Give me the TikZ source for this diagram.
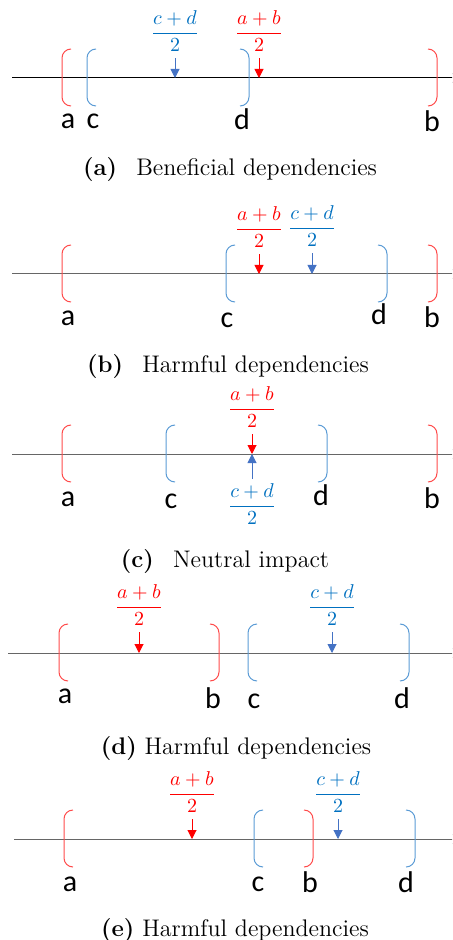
\documentclass[tikz,border=0pt]{standalone}
\usepackage{fontspec}
\newfontfamily\lblfont{Carlito}
\usetikzlibrary{arrows.meta}
\definecolor{fracblue}{HTML}{0070C0}
\definecolor{arrblue}{HTML}{4472C4}
\definecolor{brblue}{HTML}{5B9BD5}
\definecolor{brred}{HTML}{FF4B4B}
\tikzset{
  axisline/.style={draw=black!60,line width=0.5pt,-{To[length=3pt,width=5pt]}},
  redbr/.style={draw=brred,line width=0.5pt,rounded corners=4.5pt},
  bluebr/.style={draw=brblue,line width=0.5pt,rounded corners=4.5pt},
  endlbl/.style={font=\lblfont\fontsize{15}{15}\selectfont,inner sep=0pt,anchor=base},
  redfrac/.style={text=red,font=\fontsize{10}{12}\selectfont,inner sep=1pt,anchor=base},
  bluefrac/.style={text=fracblue,font=\fontsize{10}{12}\selectfont,inner sep=1pt,anchor=base},
  redarr/.style={draw=red,line width=0.5pt,-{Triangle[length=4.5pt,width=4.5pt]},shorten <=2pt},
  bluearr/.style={draw=arrblue,line width=0.5pt,-{Triangle[length=4.5pt,width=4.5pt]},shorten <=2pt},
  subcap/.style={font=\fontsize{12}{14}\selectfont,inner sep=0pt,anchor=base}
}
\newcommand{\half}[1]{$\displaystyle\frac{#1}{2}$}

\begin{document}
\begin{tikzpicture}[x=0.5pt,y=-0.5pt]
\clip (0,0) rectangle (452,940);

% (a) beneficial
\draw[axisline,draw=black] (12,78) -- (458,78);
\draw[redbr] (71,49) -- (62,49) -- (62,106) -- (71,106);
\draw[bluebr] (96,49) -- (87,49) -- (87,106) -- (96,106);
\draw[bluebr] (240,49) -- (249,49) -- (249,106) -- (240,106);
\draw[redbr] (428,49) -- (437,49) -- (437,106) -- (428,106);
\node[bluefrac] (fcda) at (175,38) {\half{c+d}};
\node[redfrac] (faba) at (259,38) {\half{a+b}};
\coordinate (mcda) at (175,78);
\coordinate (maba) at (259,78);
\draw[bluearr] (fcda.south) -- (mcda);
\draw[redarr] (faba.south) -- (maba);
\node[endlbl] (aa) at (68,129) {a};
\node[endlbl] (ca) at (93,129) {c};
\node[endlbl] (da) at (242,130) {d};
\node[endlbl] (ba) at (432,132) {b};
\node[subcap] (capa) at (230,176) {\textbf{(a)}\hspace{0.8em}Beneficial dependencies};

% (b) harmful
\draw[axisline] (12,274) -- (458,274);
\draw[redbr] (71,245) -- (62,245) -- (62,302) -- (71,302);
\draw[bluebr] (235,245) -- (226,245) -- (226,302) -- (235,302);
\draw[bluebr] (378,245) -- (387,245) -- (387,302) -- (378,302);
\draw[redbr] (428,245) -- (437,245) -- (437,302) -- (428,302);
\node[redfrac] (fabb) at (259,234) {\half{a+b}};
\node[bluefrac] (fcdb) at (312,233) {\half{c+d}};
\coordinate (mabb) at (259,274);
\coordinate (mcdb) at (312,274);
\draw[redarr] (fabb.south) -- (mabb);
\draw[bluearr] (fcdb.south) -- (mcdb);
\node[endlbl] (ab) at (68,326) {a};
\node[endlbl] (cb) at (227,328) {c};
\node[endlbl] (db) at (379,325) {d};
\node[endlbl] (bb) at (432,328) {b};
\node[subcap] (capb) at (228,372) {\textbf{(b)}\hspace{0.8em}Harmful dependencies};

% (c) neutral
\draw[axisline] (12,454) -- (458,454);
\draw[redbr] (71,425) -- (62,425) -- (62,482) -- (71,482);
\draw[bluebr] (175,425) -- (166,425) -- (166,482) -- (175,482);
\draw[bluebr] (318,425) -- (327,425) -- (327,482) -- (318,482);
\draw[redbr] (428,425) -- (437,425) -- (437,482) -- (428,482);
\node[redfrac] (fabc) at (252,414) {\half{a+b}};
\node[bluefrac] (fcdc) at (252,511) {\half{c+d}};
\coordinate (mabc) at (252,454);
\coordinate (mcdc) at (252,454);
\draw[redarr] (fabc.south) -- (mabc);
\draw[bluearr,shorten <=1pt] (fcdc.north) -- (mcdc);
\node[endlbl] (ac) at (68,506) {a};
\node[endlbl] (cc) at (171,508) {c};
\node[endlbl] (dc) at (321,505) {d};
\node[endlbl] (bc) at (432,508) {b};
\node[subcap] (capc) at (225,567) {\textbf{(c)}\hspace{0.8em}Neutral impact};

% (d) harmful, disjoint
\draw[axisline] (8,653) -- (458,653);
\draw[redbr] (68,624) -- (59,624) -- (59,681) -- (68,681);
\draw[redbr] (210,624) -- (219,624) -- (219,681) -- (210,681);
\draw[bluebr] (257,624) -- (248,624) -- (248,681) -- (257,681);
\draw[bluebr] (400,624) -- (409,624) -- (409,681) -- (400,681);
\node[redfrac] (fabd) at (139,612) {\half{a+b}};
\node[bluefrac] (fcdd) at (332,612) {\half{c+d}};
\coordinate (mabd) at (139,653);
\coordinate (mcdd) at (332,653);
\draw[redarr] (fabd.south) -- (mabd);
\draw[bluearr] (fcdd.south) -- (mcdd);
\node[endlbl] (ad) at (65,703) {a};
\node[endlbl] (bd) at (213,708) {b};
\node[endlbl] (cd) at (254,708) {c};
\node[endlbl] (dd) at (402,708) {d};
\node[subcap] (capd) at (236,754) {\textbf{(d)} Harmful dependencies};

% (e) harmful, overlapping
\draw[axisline] (14,839) -- (458,839);
\draw[redbr] (73,810) -- (64,810) -- (64,867) -- (73,867);
\draw[bluebr] (263,810) -- (254,810) -- (254,867) -- (263,867);
\draw[redbr] (304,810) -- (313,810) -- (313,867) -- (304,867);
\draw[bluebr] (406,810) -- (415,810) -- (415,867) -- (406,867);
\node[redfrac] (fabe) at (192,799) {\half{a+b}};
\node[bluefrac] (fcde) at (338,799) {\half{c+d}};
\coordinate (mabe) at (192,839);
\coordinate (mcde) at (338,839);
\draw[redarr] (fabe.south) -- (mabe);
\draw[bluearr] (fcde.south) -- (mcde);
\node[endlbl] (ae) at (70,891) {a};
\node[endlbl] (ce) at (258,891) {c};
\node[endlbl] (be) at (310,892) {b};
\node[endlbl] (de) at (406,892) {d};
\node[subcap] (cape) at (235,936) {\textbf{(e)} Harmful dependencies};
\end{tikzpicture}
\end{document}
